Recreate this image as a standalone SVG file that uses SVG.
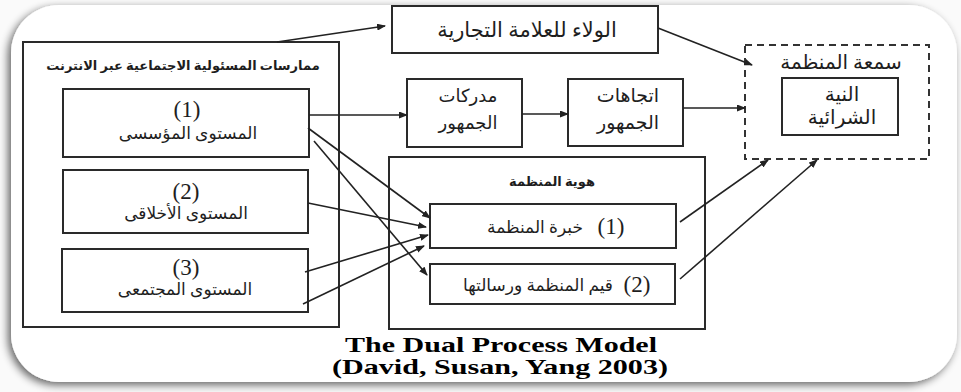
<svg xmlns="http://www.w3.org/2000/svg" width="961" height="392" viewBox="0 0 961 392">
<style>
.box{fill:#fff;stroke:#2a2a2a;stroke-width:2}
.dash{fill:none;stroke:#333;stroke-width:2;stroke-dasharray:7 5}
.ar{font-family:"Liberation Serif","DejaVu Sans",serif;fill:#1e1e1e;text-anchor:middle}
.b{font-size:13px;font-weight:bold}
.num{font-family:"Liberation Serif",serif;font-size:23px;fill:#1e1e1e;text-anchor:middle}
.cap{font-family:"Liberation Serif",serif;font-size:21px;font-weight:bold;fill:#000;text-anchor:middle}
.con line{stroke:#222;stroke-width:1.6;marker-end:url(#ah)}
</style>
<defs>
<marker id="ah" markerWidth="9" markerHeight="7" refX="8" refY="3.5" orient="auto" markerUnits="userSpaceOnUse">
<path d="M0,0 L9,3.5 L0,7 Z" fill="#222"/>
</marker>
<filter id="sh" x="-5%" y="-5%" width="110%" height="115%">
<feGaussianBlur in="SourceAlpha" stdDeviation="4"/>
<feOffset dx="-3" dy="3" result="o"/>
<feComponentTransfer><feFuncA type="linear" slope="0.6"/></feComponentTransfer>
<feMerge><feMergeNode/><feMergeNode in="SourceGraphic"/></feMerge>
</filter>
</defs>
<rect width="961" height="392" fill="#fafafa"/>
<rect x="11" y="5" width="946" height="377" rx="48" ry="48" fill="#fff" filter="url(#sh)"/>

<g id="csr">
<rect class="box" x="23" y="42" width="316" height="285"/>
<text class="ar b" x="183" y="70">ممارسات المسئولية الاجتماعية عبر الانترنت</text>
</g>
<g id="level1">
<rect class="box" x="63" y="89" width="246" height="68"/>
<text class="num" x="187" y="117">(1)</text>
<text class="ar" font-size="17" x="188" y="139">المستوى المؤسسى</text>
</g>
<g id="level2">
<rect class="box" x="63" y="170" width="245" height="63"/>
<text class="num" x="186" y="199">(2)</text>
<text class="ar" font-size="17" x="186" y="219">المستوى الأخلاقى</text>
</g>
<g id="level3">
<rect class="box" x="62" y="249" width="246" height="63"/>
<text class="num" x="186" y="275">(3)</text>
<text class="ar" font-size="17" x="185" y="295">المستوى المجتمعى</text>
</g>
<g id="loyalty">
<rect class="box" x="392" y="6" width="266" height="47"/>
<text class="ar" font-size="21" x="527" y="37">الولاء للعلامة التجارية</text>
</g>
<g id="perceptions">
<rect class="box" x="407" y="79" width="115" height="68"/>
<text class="ar" font-size="18" x="468" y="102">مدركات</text>
<text class="ar" font-size="18" x="468" y="129">الجمهور</text>
</g>
<g id="attitudes">
<rect class="box" x="568" y="79" width="115" height="67"/>
<text class="ar" font-size="19" x="628" y="102">اتجاهات</text>
<text class="ar" font-size="19" x="628" y="129">الجمهور</text>
</g>
<g id="identity">
<rect class="box" x="389" y="157" width="316" height="172"/>
<text class="ar b" x="552" y="186">هوية المنظمة</text>
</g>
<g id="experience">
<rect class="box" x="430" y="204" width="246" height="44"/>
<text class="num" x="611" y="234">(1)</text>
<text class="ar" font-size="17" x="535" y="233">خبرة المنظمة</text>
</g>
<g id="values">
<rect class="box" x="430" y="264" width="245" height="40"/>
<text class="num" x="637" y="292">(2)</text>
<text class="ar" font-size="17" x="538" y="291">قيم المنظمة ورسالتها</text>
</g>
<g id="reputation">
<rect class="dash" x="745" y="45" width="184" height="114"/>
<text class="ar" font-size="20" x="841" y="69">سمعة المنظمة</text>
</g>
<g id="intention">
<rect class="box" x="782" y="78" width="116" height="57"/>
<text class="ar" font-size="20" x="842" y="101">النية</text>
<text class="ar" font-size="20" x="842" y="124">الشرائية</text>
</g>

<g id="connectors" class="con">
<line x1="277" y1="42" x2="385" y2="26"/>
<line x1="658" y1="28" x2="752" y2="65"/>
<line x1="309" y1="115" x2="407" y2="115"/>
<line x1="522" y1="114" x2="568" y2="114"/>
<line x1="683" y1="108" x2="745" y2="108"/>
<line x1="680" y1="222" x2="768" y2="160"/>
<line x1="680" y1="279" x2="817" y2="160"/>
<line x1="308" y1="128" x2="430" y2="218"/>
<line x1="314" y1="141" x2="427" y2="275"/>
<line x1="308" y1="203" x2="426" y2="227"/>
<line x1="305" y1="272" x2="428" y2="235"/>
<line x1="303" y1="304" x2="424" y2="246"/>
</g>

<text class="cap" x="501" y="352" textLength="312" lengthAdjust="spacingAndGlyphs">The Dual Process Model</text>
<text class="cap" x="500" y="374" textLength="336" lengthAdjust="spacingAndGlyphs">(David, Susan, Yang 2003)</text>
</svg>
